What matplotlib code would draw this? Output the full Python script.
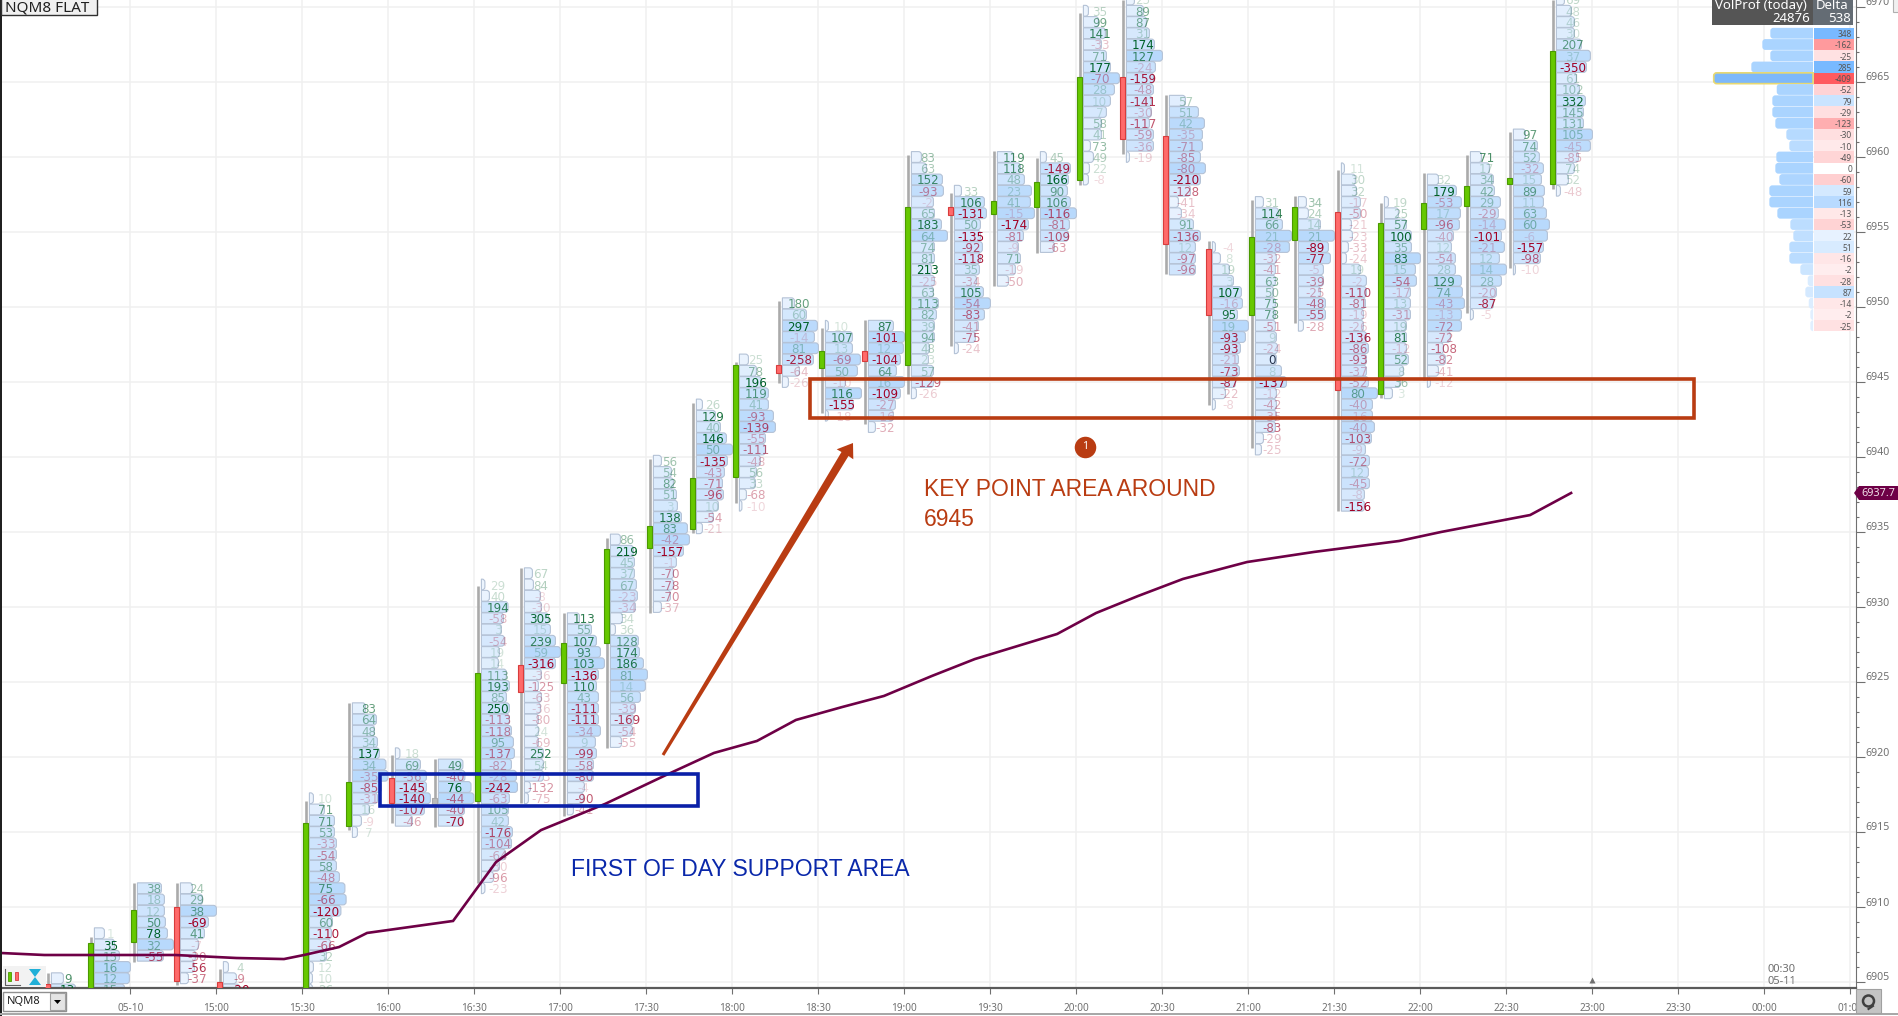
import matplotlib
matplotlib.use('Agg')
import matplotlib.pyplot as plt
from matplotlib.patches import PathPatch, Rectangle, Polygon
from matplotlib.path import Path
from matplotlib.transforms import ScaledTranslation

plt.rcParams['font.family'] = ['Noto Sans', 'DejaVu Sans']

# bars: minutes since midnight of 05-10 (15 minute footprint bars)
bar_times = [840, 855, 870, 885, 900, 930, 945, 960, 975, 990, 1005, 1020, 1035, 1050, 1065, 1080, 1095, 1110,
             1125, 1140, 1155, 1170, 1185, 1200, 1215, 1230, 1245, 1260, 1275, 1290, 1305, 1320, 1335, 1350, 1365]
top_prices = [6905.25, 6908.25, 6911.25, 6911.25, 6906, 6917.25, 6923.25, 6920.25, 6919.5, 6931.5, 6932.25,
              6929.25, 6934.5, 6939.75, 6943.5, 6946.5, 6950.25, 6948.75, 6948.75, 6960, 6957.75, 6960, 6960,
              6969.75, 6970.5, 6963.75, 6954, 6957, 6957, 6959.25, 6957, 6958.5, 6960, 6961.5, 6970.5]
opens = [6904.87, 6903, 6907.67, 6910, 6905.02, 6903, 6915.4, 6918.6, 6917.05, 6917.09, 6926.13, 6924.93, 6927.6,
         6933.93, 6935.2, 6938.67, 6946.13, 6945.93, 6947.09, 6946.13, 6956.67, 6956.2, 6956.69, 6958.47, 6965.35,
         6961.4, 6953.87, 6949.47, 6954.47, 6956.35, 6944.2, 6955.2, 6956.73, 6958.2, 6958.2]
closes = [6904.13, 6907.6, 6909.8, 6905.09, 6903.5, 6915.6, 6918.33, 6916.93, 6917.05, 6925.6, 6924.35, 6927.6,
          6933.87, 6935.4, 6938.6, 6946.13, 6945.62, 6947.09, 6946.42, 6956.67, 6956.13, 6957.09, 6958.35, 6965.35,
          6961.2, 6954.2, 6949.47, 6954.67, 6956.67, 6944.47, 6955.62, 6956.93, 6958.09, 6958.62, 6967.09]
highs = [6905.6, 6908, 6911.6, 6911.6, 6905.87, 6917.09, 6923.62, 6920.13, 6919.87, 6931.4, 6932.6, 6929.6, 6934.6,
         6939.87, 6943.6, 6946.33, 6950.4, 6948.62, 6949.13, 6960.13, 6957.62, 6960.4, 6959.93, 6969.62, 6970.47,
         6964.13, 6954.42, 6957.13, 6957.4, 6959.13, 6956.93, 6958.93, 6960.13, 6961.69, 6970.47]
lows = [6903.8, 6902, 6906.33, 6904.8, 6903, 6902, 6915.13, 6915.6, 6915.35, 6911.6, 6916.93, 6916.09, 6920.6,
        6929.62, 6934.93, 6936.93, 6944.93, 6942.93, 6942.2, 6944.2, 6947.42, 6951.42, 6953.62, 6958.13, 6960.2,
        6952.2, 6943.47, 6940.62, 6948.93, 6936.4, 6943.93, 6945.13, 6949.62, 6952.62, 6957.87]

# delta per row, top row first
delta_1400 = [9, 13]
delta_1415 = [1, 35, 15, 16, 12, 15]
delta_1430 = [38, 18, 12, 50, 78, 32, -55]
delta_1445 = [24, 29, 38, -69, 41, -7, -30, -56, -37]
delta_1500 = [4, -9, -20]
delta_1530 = [10, 71, 71, 53, -33, -54, 58, -48, 75, -66, -120, 60, -110, -66, 32, 12, 10, 26]
delta_1545 = [83, 64, 48, 34, 137, 34, -35, -85, -31, 16, -9, 7]
delta_1600 = [18, 69, -56, -145, -140, -107, -46]
delta_1615 = [49, -40, 76, -44, -40, -70]
delta_1630 = [29, 40, 194, -58, 3, -54, 19, 14, 113, 193, 85, 250, -113, -118, 95, -137, -82, -28, -242, -63,
              105, 42, -176, -104, -64, -30, -96, -23]
delta_1645 = [67, 84, -8, -30, 305, 15, 239, 59, -316, -36, -125, -63, -36, -80, 24, -69, 252, 54, -73, -132, -75]
delta_1700 = [113, 55, 107, 93, 103, -136, 110, 43, -111, -111, -34, 9, -99, -58, -80, -4, -90, -41]
delta_1715 = [86, 219, 45, 37, 67, -23, -34, 34, 36, 128, 174, 186, 81, 14, 56, -39, -169, -54, -55]
delta_1730 = [56, 54, 82, 51, 3, 138, 83, -42, -157, -1, -70, -78, -70, -37]
delta_1745 = [26, 129, 40, 146, 50, -135, -43, -71, -96, 10, -54, -21]
delta_1800 = [25, 78, 196, 119, 41, -93, -139, -55, -111, -48, 56, 33, -68, -10]
delta_1815 = [180, 60, 297, -14, 81, -258, -64, -26]
delta_1830 = [10, 107, 13, -69, 50, -10, 116, -155, -18]
delta_1845 = [87, -101, 12, -104, 64, 16, -109, -27, -16, -32]
delta_1900 = [83, 63, 152, -93, -2, 65, 183, 64, 74, 81, 213, -25, 63, 113, 82, 39, 94, 48, 23, 57, -129, -26]
delta_1915 = [33, 106, -131, 50, -135, -92, -118, 35, -34, 105, -54, -83, -41, -75, -24]
delta_1930 = [119, 118, 48, 23, 41, -15, -174, -81, -9, 71, -19, -50]
delta_1945 = [45, -149, 166, 90, 106, -116, -81, -109, -63]
delta_2000 = [35, 99, 141, -33, 71, 177, -70, 28, 10, 7, 58, 41, 73, 49, 22, -8]
delta_2015 = [25, 89, 87, 31, 174, 127, -24, -159, -48, -141, -30, -117, -59, -36, -19]
delta_2030 = [57, 51, 42, -35, -71, -85, -80, -210, -128, -41, -34, 91, -136, 12, -97, -96]
delta_2045 = [-4, 8, 19, 3, 107, -16, 95, 19, -93, -93, -21, -73, -87, -22, -8]
delta_2100 = [31, 114, 66, 21, -28, -32, -41, 63, 50, 75, 78, -51, 9, -24, 0, 8, -137, -12, -42, -35, -83, -29, -25]
delta_2115 = [34, 24, 14, 21, -89, -77, -5, -39, -25, -48, -55, -28]
delta_2130 = [11, 30, 32, -17, -50, -21, -23, -33, -24, 19, -2, -110, -81, -19, -26, -136, -86, -93, -37, -52, 80,
              -40, -16, -40, -103, -9, -72, 12, -45, -8, -156]
delta_2145 = [19, 25, 57, 100, 35, 83, 15, -54, -17, 13, -31, 19, 81, -12, 52, 8, 36, 3]
delta_2200 = [32, 179, -53, 17, -96, -40, 12, -54, 28, 129, 74, -43, -13, -72, -72, -108, -82, -41, -12]
delta_2215 = [71, 17, 34, 42, 29, -29, -14, -101, -21, 12, 14, 28, -20, -87, -5]
delta_2230 = [97, 74, 52, -32, 15, 89, 11, 63, 60, -6, -157, -98, -10]
delta_2245 = [69, 48, 46, 30, 207, 37, -350, 61, 102, 332, 145, 131, 105, -45, -85, 74, 52, -48]

# volume per row, read as bar length
vol_1400 = [12, 24]
vol_1415 = [10, 20, 25, 36, 35, 30]
vol_1430 = [24, 27, 27, 28, 30, 36, 26]
vol_1445 = [12, 22, 36, 28, 24, 18, 15, 14, 8]
vol_1500 = [5, 13, 16]
vol_1530 = [4, 15, 25, 25, 27, 27, 27, 30, 35.5, 36.7, 31.5, 23, 22, 21, 17, 4, 3, 3]
vol_1545 = [13, 24, 22, 25, 27, 33.5, 35.5, 29, 25, 17, 9, 5]
vol_1600 = [4.5, 25, 31, 31, 35, 29, 17]
vol_1615 = [24.5, 26.5, 32.6, 35.5, 26, 24]
vol_1630 = [3.5, 8, 26.6, 22, 20, 23, 18, 17, 25, 28, 25, 28, 28, 30, 32, 33, 30, 35, 36, 28, 27, 27, 31, 30, 24,
            18, 12, 3.5]
vol_1645 = [8, 9, 16, 17, 24, 26, 31, 36, 31, 17, 14, 17, 16, 14, 14, 14, 19, 19, 19, 6, 4]
vol_1700 = [12, 24, 29, 33, 37, 31, 29, 31, 31, 31, 33, 28, 29, 26, 26, 17, 16, 6]
vol_1715 = [10, 23, 24, 24, 26, 27, 25, 12, 5, 28, 29, 33, 37, 35, 30, 25, 23, 22, 11]
vol_1730 = [8, 18, 20, 23, 24, 28, 34, 36, 30, 23, 20, 20, 17, 8]
vol_1745 = [6, 19, 24, 30, 36, 31, 28, 26, 27, 22, 17, 6]
vol_1800 = [9, 17, 22, 29, 29, 34, 36, 26, 26, 21, 17, 16, 7, 2.5]
vol_1815 = [12, 24, 35, 32, 36, 31, 17, 6]
vol_1830 = [3, 27, 27, 35, 32, 20, 36, 28, 3]
vol_1845 = [25, 36, 35, 32, 28, 36, 32, 27, 25, 7]
vol_1900 = [10, 15, 31, 32, 22, 23, 30, 36, 23, 23, 20, 23, 22, 27, 25, 23, 23, 18, 17, 22, 22, 5]
vol_1915 = [7, 30, 32, 26, 26, 28, 26, 25, 22, 29, 36, 30, 24, 21, 4]
vol_1930 = [16, 23, 27, 34, 33, 37, 31, 26, 21, 23, 18, 11]
vol_1945 = [6, 30, 28, 27, 30, 36, 29, 28, 14]
vol_2000 = [5, 15, 22, 18, 23, 27, 36, 31, 27, 23, 18, 18, 7, 10, 6, 5]
vol_2015 = [8, 17, 20, 23, 28, 36, 29, 27, 27, 25, 25, 23, 27, 27, 3]
vol_2030 = [16, 29, 35, 33, 33, 31, 36, 31, 21, 9, 12, 24, 31, 26, 26, 26]
vol_2045 = [3, 8, 17, 21, 29, 30, 25, 36, 33, 28, 26, 27, 23, 13, 3]
vol_2100 = [8, 23, 27, 36, 34, 21, 20, 20, 18, 20, 20, 20, 21, 22, 21, 26, 31, 21, 21, 21, 20, 8, 6]
vol_2115 = [8, 10, 22, 36, 30, 32, 25, 25, 22, 27, 27, 5]
vol_2130 = [3, 14, 15, 19, 19, 10, 11, 7, 5, 19, 25, 25, 24, 22, 22, 25, 27, 25, 25, 27, 36, 31, 31, 33, 30, 24,
            28, 27, 28, 23, 23]
vol_2145 = [4, 14, 22, 27, 27, 36, 31, 32, 26, 26, 26, 22, 22, 22, 24, 19, 16, 8]
vol_2200 = [11, 29, 34, 33, 32, 26, 24, 28, 28, 34, 35, 37, 34, 34, 23, 16, 18, 11, 3]
vol_2215 = [11, 19, 23, 24, 30, 28, 35, 31, 34, 29, 36, 31, 26, 23, 3]
vol_2230 = [12, 24, 26, 30, 28, 31, 30, 33, 36, 34, 30, 27, 2]
vol_2245 = [8, 15, 18, 18, 25, 34, 30, 20, 23, 29, 27, 27, 36, 34, 22, 18, 12, 4]

deltas = [delta_1400, delta_1415, delta_1430, delta_1445, delta_1500, delta_1530, delta_1545, delta_1600, delta_1615,
          delta_1630, delta_1645, delta_1700, delta_1715, delta_1730, delta_1745, delta_1800, delta_1815, delta_1830,
          delta_1845, delta_1900, delta_1915, delta_1930, delta_1945, delta_2000, delta_2015, delta_2030, delta_2045,
          delta_2100, delta_2115, delta_2130, delta_2145, delta_2200, delta_2215, delta_2230, delta_2245]
vols = [vol_1400, vol_1415, vol_1430, vol_1445, vol_1500, vol_1530, vol_1545, vol_1600, vol_1615,
        vol_1630, vol_1645, vol_1700, vol_1715, vol_1730, vol_1745, vol_1800, vol_1815, vol_1830,
        vol_1845, vol_1900, vol_1915, vol_1930, vol_1945, vol_2000, vol_2015, vol_2030, vol_2045,
        vol_2100, vol_2115, vol_2130, vol_2145, vol_2200, vol_2215, vol_2230, vol_2245]

# day profile on the right
prof_top = 6968.25
prof_vol = [42.7, 50.7, 42.7, 61.7, 99.3, 36.3, 40.7, 40.7, 37.7, 26.7, 23.7, 36.7, 37.7, 33.7, 43.7, 43.7, 35.7,
            22.7, 19.7, 23.7, 23.7, 12.7, 5.3, 7.7, 4.3, 2.7, 2.7]
prof_delta = [348, -162, -25, 285, -409, -52, 79, -29, -123, -30, -10, -49, 0, -60, 59, 116, -13, -53, 22, 51, -16,
              -2, -28, 87, -14, -2, -25]

# moving line
line_times = [825.2, 840, 874.4, 885.6, 907, 923.6, 930.6, 942.8, 952.6, 982.6, 997.6, 1013.3, 1035.6, 1056.9,
              1073.6, 1088.6, 1102.2, 1118.3, 1132.9, 1149.6, 1164.6, 1193.3, 1206.9, 1221.5, 1237.2, 1259.6,
              1282.9, 1312.6, 1327.2, 1358.3, 1372.6]
line_prices = [6906.93, 6906.8, 6906.8, 6906.8, 6906.6, 6906.53, 6906.8, 6907.33, 6908.27, 6909.07, 6913, 6915.13,
               6916.87, 6918.8, 6920.27, 6921.07, 6922.47, 6923.33, 6924.07, 6925.4, 6926.53, 6928.2, 6929.6,
               6930.73, 6931.87, 6933, 6933.67, 6934.4, 6935, 6936.13, 6937.6]

x_tick_times = list(range(870, 1471, 30))
x_tick_labels = ['05-10', '15:00', '15:30', '16:00', '16:30', '17:00', '17:30', '18:00', '18:30', '19:00', '19:30',
                 '20:00', '20:30', '21:00', '21:30', '22:00', '22:30', '23:00', '23:30', '00:00', '01:00']

PX_PER_MIN = 86 / 30
PX_PER_PT = 15
ROW = 0.75
BAR_SHIFT = 3.4 / PX_PER_MIN
GREEN, GREEN_EDGE = '#66c800', '#4a9a00'
RED, RED_EDGE = '#ff6a6a', '#d83c3c'
ORANGE = '#b93c12'
BLUE = '#0a20a8'
MAROON = '#6e0046'


def mix(a, b, t):
    return tuple(a[i] + (b[i] - a[i]) * t for i in range(3))


def row_patch(x, price, w, fc, ec, lw=0.8, z=2):
    # row bar with rounded corners on the far end only
    rx = (3.0 if w > 0 else -3.0) / PX_PER_MIN
    if abs(w) < abs(rx):
        rx = w
    ry = 3.0 / PX_PER_PT
    h = ROW / 2 - 0.015
    verts = [(x, price - h), (x + w - rx, price - h), (x + w, price - h), (x + w, price - h + ry),
             (x + w, price + h - ry), (x + w, price + h), (x + w - rx, price + h), (x, price + h), (x, price - h)]
    codes = [Path.MOVETO, Path.LINETO, Path.CURVE3, Path.CURVE3, Path.LINETO, Path.CURVE3, Path.CURVE3,
             Path.LINETO, Path.CLOSEPOLY]
    return PathPatch(Path(verts, codes), facecolor=fc, edgecolor=ec, lw=lw, zorder=z)


fig = plt.figure(figsize=(18.99, 10.16), dpi=100, facecolor='white')
ax = fig.add_axes([2 / 1899, 28 / 1016, 1854 / 1899, 988 / 1016])
ax.set_xlim(990 + (2 - 474.3) / PX_PER_MIN, 990 + (1856 - 474.3) / PX_PER_MIN)
ax.set_ylim(6965 - (988 - 82) / PX_PER_PT, 6965 + 82 / PX_PER_PT)
ax.set_axisbelow(True)

# axes
ax.yaxis.tick_right()
ax.set_yticks(range(6905, 6971, 5))
ax.set_yticks(range(6905, 6971), minor=True)
ax.set_xticks(x_tick_times)
ax.set_xticklabels(x_tick_labels)
ax.grid(True, which='major', color='#f0f0f0', lw=1.1)
ax.tick_params(axis='y', which='major', length=6.5, width=0.8, color='#707070', labelcolor='#707070',
               labelsize=7.6, pad=0.5)
ax.tick_params(axis='y', which='minor', length=2.5, width=0.8, color='#707070')
ax.tick_params(axis='x', length=4.5, width=0.8, color='#707070', labelcolor='#707070', labelsize=7.2, pad=6)
lift = ScaledTranslation(0, 4 / 100, fig.dpi_scale_trans)
for lab in ax.get_yticklabels():
    lab.set_va('center')
    lab.set_ha('left')
    lab.set_transform(lab.get_transform() + lift)
for side in ['top', 'left']:
    ax.spines[side].set_visible(False)
ax.spines['right'].set_color('#707070')
ax.spines['bottom'].set_color('#5a5a5a')
ax.spines['bottom'].set_linewidth(1.6)

# footprint bars
for i, t in enumerate(bar_times):
    cx = t + BAR_SHIFT
    left = cx + 3.7 / PX_PER_MIN
    mid = cx + 20 / PX_PER_MIN
    top_abs = max(abs(v) for v in deltas[i])
    for k, (d, v) in enumerate(zip(deltas[i], vols[i])):
        price = top_prices[i] - k * ROW
        fc = mix((238, 245, 254), (184, 217, 252), min(v / 36, 1) ** 1.8)
        fc = tuple(c / 255 for c in fc)
        p = row_patch(left, price, v / PX_PER_MIN, fc, '#b4c2d6')
        ax.add_patch(p)
        strength = 0.14 + 0.86 * (abs(d) / top_abs) ** 1.25
        if d > 0:
            col = (0, 0.38, 0.16, strength)
        elif d < 0:
            col = (0.63, 0, 0.14, strength)
        else:
            col = '#26324a'
        ax.text(mid, price, str(d), color=col, family='DejaVu Sans', fontsize=8.6, ha='center',
                va='center_baseline', zorder=3, clip_on=True)
    # candle
    ax.vlines(cx, lows[i], highs[i], color='#aaaaaa', lw=1.9, zorder=4)
    o, c = opens[i], closes[i]
    if c > o:
        fc, ec = GREEN, GREEN_EDGE
    elif c < o:
        fc, ec = RED, RED_EDGE
    else:
        fc, ec = '#bbbbbb', '#aaaaaa'
        o, c = o - 0.2, o + 0.2
    ax.bar(cx, abs(c - o), bottom=min(o, c), width=5 / PX_PER_MIN, color=fc, edgecolor=ec, lw=0.8, zorder=5)

# day volume profile and delta column
prof_x = 1457
delta_w = 14
top_prof = max(abs(v) for v in prof_delta)
for k, (v, d) in enumerate(zip(prof_vol, prof_delta)):
    price = prof_top - k * ROW
    c = mix((234, 244, 255), (170, 212, 255), min(v / 36, 1) ** 0.7)
    c = tuple(x / 255 for x in c)
    if v == max(prof_vol):
        ax.add_patch(row_patch(prof_x, price, -v / PX_PER_MIN, '#7db8fa', '#e8d870', lw=1.2))
    else:
        ax.add_patch(row_patch(prof_x, price, -v / PX_PER_MIN, c, 'none', lw=0))
    s = abs(d) / top_prof
    if d > 0:
        cell = mix((255, 255, 255), (120, 185, 255), min(s * 1.5 + 0.1, 1))
    elif d < 0:
        cell = mix((255, 255, 255), (255, 90, 95), min(s * 1.3 + 0.1, 1))
    else:
        cell = (255, 255, 255)
    ax.add_patch(Rectangle((prof_x + 0.3, price - ROW / 2), delta_w, ROW, color=tuple(x / 255 for x in cell),
                           lw=0, zorder=2))
    ax.text(prof_x + delta_w - 0.4, price - 0.03, str(d), fontsize=6.0, color='#555555', ha='right',
            va='center_baseline', zorder=3)

# moving line
ax.plot(line_times, line_prices, color=MAROON, lw=1.9, zorder=6, solid_joinstyle='miter')

# hand drawn marks
ax.add_patch(Rectangle((957.1, 6916.73), 1068 - 957.1, 6918.87 - 6916.73, fill=False, ec=BLUE, lw=2.6, zorder=7))
ax.add_patch(Rectangle((1107, 6942.6), 1415.4 - 1107, 6945.2 - 6942.6, fill=False, ec=ORANGE, lw=2.6, zorder=7))
ax.text(1146.9, 6937.84, 'KEY POINT AREA AROUND', family='Liberation Sans', fontsize=16.5, color=ORANGE,
        va='center', zorder=8)
ax.text(1146.9, 6935.84, '6945', family='Liberation Sans', fontsize=16.5, color=ORANGE, va='center', zorder=8)
ax.text(1023.7, 6912.47, 'FIRST OF DAY SUPPORT AREA', family='Liberation Sans', fontsize=16.5, color='#0a28aa',
        va='center', zorder=8)
ax.plot([1203], [6940.67], 'o', ms=15.5, color=ORANGE, mec='none', zorder=7)
ax.text(1203, 6940.67, '1', color='white', fontsize=7.5, fontweight='bold', ha='center', va='center', zorder=8)
ax.plot([1380], [6905.1], '^', ms=5, color='#707070', mec='none', clip_on=False, zorder=8)
ax.text(1441, 6905.8, '00:30', fontsize=8, color='#707070', va='center', zorder=8)
ax.text(1441, 6905.0, '05-11', fontsize=8, color='#707070', va='center', zorder=8)

# window chrome, in screen pixels
ui = fig.add_axes([0, 0, 1, 1], zorder=10)
ui.set_xlim(0, 1899)
ui.set_ylim(1016, 0)
ui.axis('off')
ui.add_patch(Rectangle((0, 0), 2, 1016, color='#202020', lw=0))
ui.add_patch(Rectangle((0, 1012.5), 1899, 2, color='#a8a8a8', lw=0))
ui.add_patch(Rectangle((1, -2), 96, 17, fc='#f0f0f0', ec='#303030', lw=1))
ui.text(5, 7.5, 'NQM8 FLAT', fontsize=11, color='#202020', va='center')
ui.add_patch(Rectangle((1893, -2), 8, 14, fc='#f0f0f0', ec='#b0b0b0', lw=0.8))

# arrow, wider toward the head
ui.add_patch(Polygon([(661.7, 754.2), (664.3, 755.8), (848.5, 456), (853.3, 459.3), (853, 443), (836.7, 449.3),
                      (841.5, 452)], color=ORANGE, lw=0))

# table head
ui.add_patch(Rectangle((1712, 0), 141, 24.5, color='#555555', lw=0))
ui.add_patch(Rectangle((1813, 0), 40, 24.5, color='#646c74', lw=0))
ui.text(1715, 5.5, 'VolProf (today)', fontsize=9.5, color='white', va='center')
ui.text(1816, 5.5, 'Delta', fontsize=9.5, color='white', va='center')
ui.text(1810, 18, '24876', fontsize=9.5, color='white', va='center', ha='right')
ui.text(1851, 18, '538', fontsize=9.5, color='white', va='center', ha='right')

# last price tag
ui.add_patch(Polygon([(1854, 493), (1859, 486), (1899, 486), (1899, 500), (1859, 500)], color=MAROON, lw=0))
ui.text(1878, 493, '6937.7', fontsize=7.8, color='#f0e0e8', ha='center', va='center')

# symbol box and refresh button
ui.add_patch(Rectangle((3, 992), 63, 19, fc='white', ec='#909090', lw=1))
ui.add_patch(Rectangle((50, 993), 15, 17, fc='#e4e4e4', ec='#a0a0a0', lw=0.8))
ui.add_patch(Polygon([(54, 1000), (61, 1000), (57.5, 1004)], color='black', lw=0))
ui.text(7, 1001.5, 'NQM8', fontsize=8, color='#202020', va='center')
ui.add_patch(Rectangle((1856, 989), 25, 24, fc='#c4c4c4', ec='#a0a0a0', lw=0.8))
ui.plot([1873, 1868.5], [1006, 1009], color='#404040', lw=1.5)
ui.add_patch(plt.Circle((1868.5, 1001), 5.5, fill=False, ec='#404040', lw=1.8))

# chart type icons
ui.add_patch(Rectangle((3, 966), 43, 21, color='#f2f2f2', lw=0))
ui.plot([5, 5, 20], [969, 985, 985], color='#606060', lw=0.8)
ui.add_patch(Rectangle((8, 972), 3, 9, fc=GREEN, ec=GREEN_EDGE, lw=0.6))
ui.add_patch(Rectangle((15, 972), 3, 8, fc=RED, ec=RED_EDGE, lw=0.6))
ui.add_patch(Polygon([(29, 969), (41, 969), (35, 977), (41, 985), (29, 985), (35, 977)], color='#20b0d8', lw=0))

fig.savefig('out.png', dpi=100)
